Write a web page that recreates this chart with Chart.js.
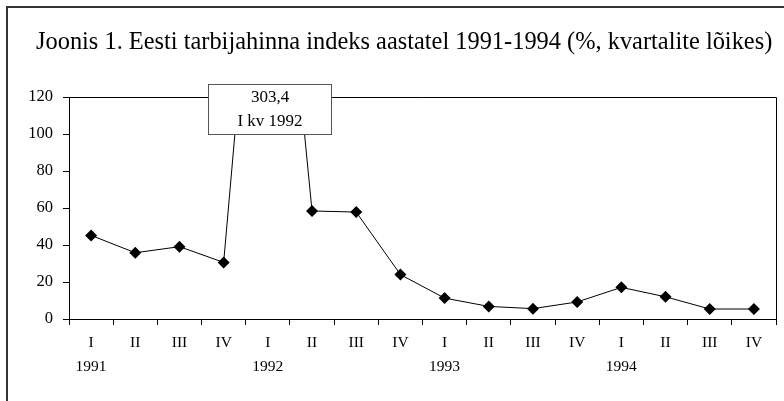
<!DOCTYPE html>
<html>
<head>
<meta charset="utf-8">
<script src="https://cdn.jsdelivr.net/npm/chart.js@4/dist/chart.umd.min.js"></script>
<style>
  html, body { margin: 0; padding: 0; background: #fff; }
</style>
</head>
<body>
<canvas id="cpiChart" width="784" height="401"></canvas>
<script>
const quarters = ["I", "II", "III", "IV", "I", "II", "III", "IV", "I", "II", "III", "IV", "I", "II", "III", "IV"];
const years = ["1991", "", "", "", "1992", "", "", "", "1993", "", "", "", "1994", "", "", ""];
const cpi = [45.2, 35.8, 39.1, 30.6, 303.4, 58.4, 57.8, 24.0, 11.3, 6.8, 5.6, 9.2, 17.1, 12.0, 5.4, 5.4];
const yTicks = [0, 20, 40, 60, 80, 100, 120];
const peakIndex = 4;
const peakNote = ["303,4", "I kv 1992"];
const titleText = "Joonis 1. Eesti tarbijahinna indeks aastatel 1991-1994 (%, kvartalite lõikes)";

const serif = "'Liberation Serif', 'Times New Roman', serif";
const ctxEl = document.getElementById("cpiChart");

// frame round the whole figure, title, box round the plot, and the call-out for the clipped peak
const framePlugin = {
    id: "frame",
    beforeDraw(chart) {
        const c = chart.ctx;
        c.save();
        c.fillStyle = "#fff";
        c.fillRect(0, 0, chart.width, chart.height);
        c.strokeStyle = "#333";
        c.lineWidth = 2;
        c.strokeRect(7, 7, chart.width + 20, chart.height + 20);

        c.fillStyle = "#000";
        c.font = "24.4px " + serif;
        c.textAlign = "left";
        c.textBaseline = "alphabetic";
        c.fillText(titleText, 36, 49);
        c.restore();
    },
    afterDraw(chart) {
        const c = chart.ctx;
        const a = chart.chartArea;
        c.save();
        c.strokeStyle = "#000";
        c.lineWidth = 1;
        c.beginPath();
        c.moveTo(a.left, a.top + 0.5);
        c.lineTo(a.right + 0.5, a.top + 0.5);
        c.lineTo(a.right + 0.5, a.bottom);
        c.stroke();

        // call-out box
        const cx = chart.scales.x.getPixelForValue(peakIndex) + 2;
        const w = 123, h = 50;
        const bx = Math.round(cx - w / 2) + 0.5;
        const by = 84.5;
        c.fillStyle = "#fff";
        c.fillRect(bx, by, w, h);
        c.strokeStyle = "#555";
        c.strokeRect(bx, by, w, h);
        c.fillStyle = "#000";
        c.font = "17px " + serif;
        c.textAlign = "center";
        c.textBaseline = "middle";
        c.fillText(peakNote[0], bx + w / 2, by + 13);
        c.fillText(peakNote[1], bx + w / 2, by + 37);
        c.restore();
    }
};

new Chart(ctxEl, {
    type: "line",
    data: {
        labels: quarters.map((q, i) => [q, years[i]]),
        datasets: [{
            data: cpi,
            borderColor: "#000",
            borderWidth: 1,
            backgroundColor: "#000",
            pointStyle: "rectRot",
            pointRadius: 6,
            pointBorderWidth: 0,
            pointBackgroundColor: "#000",
            tension: 0,
            fill: false,
        }],
    },
    options: {
        responsive: false,
        devicePixelRatio: 1,
        animation: false,
        layout: { padding: { left: 10, right: 8, top: 97, bottom: 0 } },
        plugins: {
            legend: { display: false },
            tooltip: { enabled: false },
            title: { display: false },
        },
        scales: {
            x: {
                offset: true,
                grid: {
                    offset: true,
                    drawOnChartArea: false,
                    drawTicks: true,
                    tickLength: 6,
                    color: "#000",
                },
                border: { color: "#000", width: 1 },
                ticks: {
                    color: "#000",
                    font: { family: serif, size: 15.5, lineHeight: 1.55 },
                    padding: 6,
                    maxRotation: 0,
                    autoSkip: false,
                },
                afterFit(scale) { scale.height = 82; },
            },
            y: {
                min: 0,
                max: 120,
                afterBuildTicks(scale) { scale.ticks = yTicks.map(v => ({ value: v })); },
                grid: {
                    drawOnChartArea: false,
                    drawTicks: true,
                    tickLength: 6,
                    color: "#000",
                },
                border: { color: "#000", width: 1 },
                ticks: {
                    color: "#000",
                    font: { family: serif, size: 16.5 },
                    padding: 10,
                },
                afterFit(scale) { scale.width = 59; },
            },
        },
    },
    plugins: [framePlugin],
});
</script>
</body>
</html>
